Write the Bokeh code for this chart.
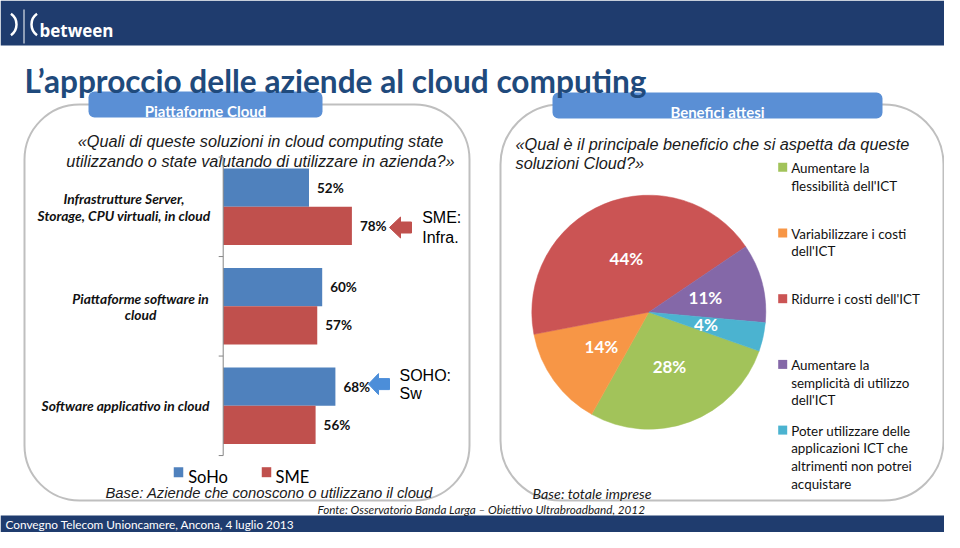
import math
from bokeh.plotting import figure
from bokeh.models import Range1d, BoxAnnotation, ColumnDataSource
from bokeh.transform import dodge
from bokeh.core.properties import value
from bokeh.embed import file_html
from bokeh.resources import INLINE

# ---------------- data ----------------
bar_categories = ["Infrastrutture Server,\nStorage, CPU virtuali, in cloud",
                  "Piattaforme software in\ncloud",
                  "Software applicativo in cloud"]
soho_values = [52, 60, 68]
sme_values = [78, 57, 56]
bar_series = ["SoHo", "SME"]

pie_categories = ["Aumentare la\nflessibilità dell'ICT",
                  "Variabilizzare i costi\ndell'ICT",
                  "Ridurre i costi dell'ICT",
                  "Aumentare la\nsemplicità di utilizzo\ndell'ICT",
                  "Poter utilizzare delle\napplicazioni ICT che\naltrimenti non potrei\nacquistare"]
pie_values = [28, 14, 44, 11, 4]

# ---------------- style ----------------
NAVY = "#1F3C6E"
TITLE_BLUE = "#1F4A7C"
TAB_BLUE = "#5A8FD5"
BORDER = "#BFBFBF"
SOHO_C = "#4F81BD"
SME_C = "#C0504D"
ARROW_BLUE = "#4C8ED9"
PIE_COLORS = ["#A2C35A", "#F79646", "#CB5454", "#8468A8", "#4BB3D0"]
CAL = "Lato"
ARIAL = "Liberation Sans"

W, H = 944, 532
p = figure(width=W, height=H, x_range=Range1d(0, W), y_range=Range1d(H, 0),
           output_backend="svg", toolbar_location=None, min_border=0,
           x_axis_location=None, y_axis_location=None, outline_line_color=None)
p.xgrid.grid_line_color = None
p.ygrid.grid_line_color = None
p.background_fill_color = "white"
p.border_fill_color = "white"


def box(l, r, t, b, fill=None, line=None, lw=0, radius=0):
    p.add_layout(BoxAnnotation(left=l, right=r, top=t, bottom=b,
                               fill_color=fill if fill else "white", fill_alpha=1 if fill else 0,
                               line_color=line if line else "white", line_alpha=1 if line else 0,
                               line_width=lw, border_radius=radius, level="underlay"))


def txt(x, y, s, size, font=CAL, style="normal", color="#000000", align="left",
        baseline="alphabetic", **kw):
    p.text(x=[x], y=[y], text=[s], text_font=value(font), text_font_size=value(f"{size}px"),
           text_font_style=style, text_color=color, text_align=align,
           text_baseline=baseline, **kw)


# ---------------- slide frame ----------------
box(0, W, 0, 45, fill=NAVY)
box(0, W, 515, H, fill=NAVY)
box(24, 469, 104, 500, line=BORDER, lw=2, radius=55)
box(500, 943, 104, 500, line=BORDER, lw=2, radius=60)
box(88, 322, 91, 117, fill=TAB_BLUE, radius=6)
box(552, 882, 92, 118, fill=TAB_BLUE, radius=6)

# logo
p.arc(x=[3], y=[24], radius=13, start_angle=math.radians(-55), end_angle=math.radians(55),
      line_color="white", line_width=2.5)
p.arc(x=[44], y=[24], radius=13, start_angle=math.radians(125), end_angle=math.radians(235),
      line_color="white", line_width=2.5)
p.segment(x0=[23.5], y0=[9], x1=[23.5], y1=[43], line_color="white", line_width=1)
txt(39, 29.5, "between", 17, font="Open Sans", style="bold", color="white")

txt(24, 80, "L\u2019approccio delle aziende al cloud computing", 31.6, style="bold", color=TITLE_BLUE)
txt(205, 110, "Piattaforme Cloud", 15, style="bold", color="white", align="center")
txt(717, 111, "Benefici attesi", 15, style="bold", color="white", align="center")

txt(260, 140, "\u00abQuali di queste soluzioni in cloud computing state", 16.3, font=ARIAL,
    style="italic", color="#1A1A1A", align="center")
txt(260, 160, "utilizzando o state valutando di utilizzare in azienda?\u00bb", 16.3, font=ARIAL,
    style="italic", color="#1A1A1A", align="center")
txt(515, 143, "\u00abQual è il principale beneficio che si aspetta da queste", 16.3, font=ARIAL,
    style="italic", color="#1A1A1A")
txt(515, 162, "soluzioni Cloud?\u00bb", 16.3, font=ARIAL, style="italic", color="#1A1A1A")

txt(105, 492.7, "Base: Aziende che conoscono o utilizzano il cloud", 14.8, font=ARIAL,
    style="italic", color="#1A1A1A")
txt(532, 492.7, "Base: totale imprese", 14.3, style="italic", color="#1A1A1A")
txt(317, 508.5, "Fonte: Osservatorio Banda Larga \u2013 Obiettivo Ultrabroadband, 2012", 11.7,
    style="italic", color="#1A1A1A")
txt(5, 524, "Convegno Telecom Unioncamere, Ancona, 4 luglio 2013", 11.8, color="white",
    baseline="middle")

# ---------------- bar chart ----------------
PX_PER_PCT = 1.65
BASE_X = 222.7
CAT0_Y = 206.3
CAT_STEP = 99.5
p.extra_x_ranges = {"pct": Range1d((0 - BASE_X) / PX_PER_PCT, (W - BASE_X) / PX_PER_PCT)}
p.extra_y_ranges = {"cat": Range1d((H - CAT0_Y) / CAT_STEP, (0 - CAT0_Y) / CAT_STEP)}

n = len(bar_categories)
idx = list(range(n))
src = ColumnDataSource(dict(idx=idx, soho=soho_values, sme=sme_values,
                            soho_lbl=[f"{v}%" for v in soho_values],
                            sme_lbl=[f"{v}%" for v in sme_values]))
BAR_H = 0.385
off = BAR_H / 2
for col, sign, color in [("soho", -1, SOHO_C), ("sme", 1, SME_C)]:
    p.hbar(y=dodge("idx", sign * off), left=0, right=col, height=BAR_H, source=src,
           fill_color=color, line_color=None, x_range_name="pct", y_range_name="cat")
    p.text(x=col, y=dodge("idx", sign * off), text=col + "_lbl", source=src, x_offset=8,
           text_baseline="middle", text_font=value(CAL), text_font_size=value("13.5px"),
           text_font_style="bold", text_color="#111111",
           x_range_name="pct", y_range_name="cat")

# category axis
bounds = [i - 0.5 for i in range(n + 1)]
p.segment(x0=[0], y0=[bounds[0]], x1=[0], y1=[bounds[-1]], line_color="#868686", line_width=1,
          x_range_name="pct", y_range_name="cat")
tick = 4.5 / PX_PER_PCT
p.segment(x0=[0] * len(bounds), y0=bounds, x1=[-tick] * len(bounds), y1=bounds,
          line_color="#868686", line_width=1, x_range_name="pct", y_range_name="cat")

# category labels
label_cx = [123.5, 140, 125]
LINE_H = 16.4
for i, lab in enumerate(bar_categories):
    lines = lab.split("\n")
    for k, ln in enumerate(lines):
        dy = (k - (len(lines) - 1) / 2) * LINE_H
        p.text(x=[label_cx[i]], y=[i], text=[ln], y_offset=dy, text_align="center",
               text_baseline="middle", text_font=value(CAL), text_font_size=value("13.8px"),
               text_font_style="bold italic", text_color="#111111", y_range_name="cat")

# callout arrows
def block_arrow(tip_x, cy, color, length=22, head_len=11, head_h=21, body_h=11):
    xs = [tip_x, tip_x + head_len, tip_x + head_len, tip_x + length, tip_x + length,
          tip_x + head_len, tip_x + head_len]
    ys = [cy, cy - head_h / 2, cy - body_h / 2, cy - body_h / 2, cy + body_h / 2,
          cy + body_h / 2, cy + head_h / 2]
    p.patch(xs, ys, fill_color=color, line_color=color)

block_arrow(389, 227, SME_C)
block_arrow(368, 383.6, ARROW_BLUE, length=21, head_len=10)
txt(421.7, 217, "SME:", 16, font=ARIAL, baseline="middle")
txt(421.7, 236.7, "Infra.", 16, font=ARIAL, baseline="middle")
txt(399, 375, "SOHO:", 16, font=ARIAL, baseline="middle")
txt(399, 393, "Sw", 16, font=ARIAL, baseline="middle")

# bar legend
for name, color, sx, tx in [(bar_series[0], SOHO_C, 178, 187.7), (bar_series[1], SME_C, 266, 275)]:
    p.rect(x=[sx], y=[471.7], width=9.5, height=10, fill_color=color, line_color=None)
    txt(tx, 476.7, name, 16.5)

# ---------------- pie chart ----------------
CX, CY, R = 648.3, 311.7, 117
FIRST_ANGLE = 109.4
total = sum(pie_values)
starts, ends, mids = [], [], []
t = FIRST_ANGLE
for v in pie_values:
    d = v / total * 360
    starts.append(t)
    ends.append(t + d)
    mids.append(t + d / 2)
    t += d
psrc = ColumnDataSource(dict(
    start=[math.radians(90 - a) for a in starts],
    end=[math.radians(90 - a) for a in ends],
    color=PIE_COLORS,
    lx=[CX + 0.5 * R * math.sin(math.radians(m)) for m in mids],
    ly=[CY - 0.5 * R * math.cos(math.radians(m)) for m in mids],
    lbl=[f"{v}%" for v in pie_values]))
p.wedge(x=CX, y=CY, radius=R, start_angle="start", end_angle="end", direction="clock",
        fill_color="color", line_color="color", line_width=0.5, source=psrc)
p.text(x="lx", y="ly", text="lbl", source=psrc, text_align="center", text_baseline="middle",
       text_font=value(CAL), text_font_size=value("17px"), text_font_style="bold",
       text_color="white")

# pie legend
LEG_Y0, LEG_STEP, LEG_LH = 167.3, 65.7, 17.7
for i, (lab, color) in enumerate(zip(pie_categories, PIE_COLORS)):
    y0 = LEG_Y0 + LEG_STEP * i
    p.rect(x=[782.2], y=[y0 - 0.5], width=9, height=9, fill_color=color, line_color=None)
    for k, ln in enumerate(lab.split("\n")):
        txt(790.7, y0 + k * LEG_LH, ln, 13.4, color="#111111", baseline="middle")

open("out.html", "w").write(file_html(p, INLINE))
